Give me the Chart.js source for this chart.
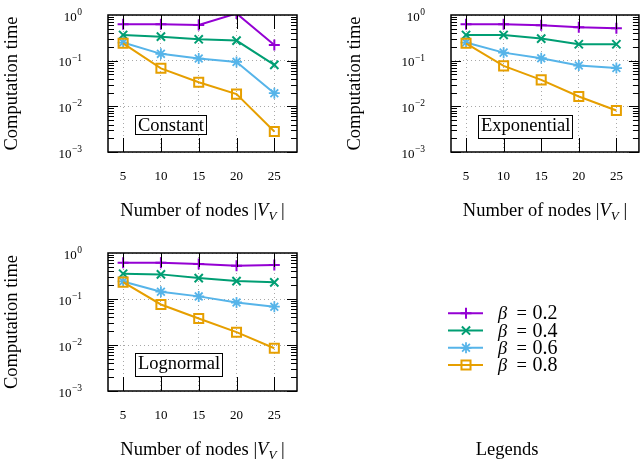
<!DOCTYPE html>
<html><head><meta charset="utf-8">
<script src="https://cdn.jsdelivr.net/npm/chart.js@4.4.1/dist/chart.umd.min.js"></script>
<style>
html,body{margin:0;padding:0;background:#fff;width:640px;height:463px;overflow:hidden;}
canvas{position:absolute;display:block;}
</style></head><body>
<canvas id="c1" width="320" height="230" style="left:0;top:0;width:320px;height:230px"></canvas>
<canvas id="c2" width="320" height="230" style="left:320px;top:0;width:320px;height:230px"></canvas>
<canvas id="c3" width="320" height="233" style="left:0;top:230px;width:320px;height:233px"></canvas>
<canvas id="c4" width="320" height="233" style="left:320px;top:230px;width:320px;height:233px"></canvas>
<script>
// ---------- data ----------
const nodes = [5, 10, 15, 20, 25];
const xTickValues = [5, 10, 15, 20, 25];
const yTickValues = [0.001, 0.01, 0.1, 1];
const yTickExponents = ['\u22123', '\u22122', '\u22121', '0'];
const betaValues = ['0.2', '0.4', '0.6', '0.8'];
const panelNames = ['Constant', 'Exponential', 'Lognormal'];

const constantB02 = [0.625, 0.625, 0.605, 1.08, 0.221];
const constantB04 = [0.366, 0.336, 0.294, 0.275, 0.081];
const constantB06 = [0.249, 0.141, 0.111, 0.094, 0.0194];
const constantB08 = [0.240, 0.068, 0.0338, 0.0185, 0.00282];

const exponentialB02 = [0.625, 0.625, 0.594, 0.538, 0.511];
const exponentialB04 = [0.366, 0.366, 0.304, 0.229, 0.229];
const exponentialB06 = [0.249, 0.150, 0.113, 0.078, 0.069];
const exponentialB08 = [0.240, 0.077, 0.038, 0.0164, 0.0081];

const lognormalB02 = [0.616, 0.616, 0.576, 0.530, 0.548];
const lognormalB04 = [0.355, 0.343, 0.285, 0.245, 0.230];
const lognormalB06 = [0.241, 0.144, 0.114, 0.084, 0.068];
const lognormalB08 = [0.233, 0.076, 0.0377, 0.019, 0.0085];

// ---------- styles ----------
const FONT = '"Liberation Serif", "Times New Roman", Times, serif';
const SERIES_STYLE = [
  {color: '#9400D3', pointStyle: 'cross', radius: 5.5, pw: 2},
  {color: '#009E73', pointStyle: 'crossRot', radius: 5.8, pw: 2},
  {color: '#56B4E9', pointStyle: 'star', radius: 5.5, pw: 1.8},
  {color: '#E69F00', pointStyle: 'rect', radius: 6.4, pw: 2}
];

function makeDatasets(seriesList) {
  return seriesList.map((arr, i) => ({
    label: '\u03B2 = ' + betaValues[i],
    data: nodes.map((n, k) => ({x: n, y: arr[k]})),
    borderColor: SERIES_STYLE[i].color,
    backgroundColor: 'rgba(0,0,0,0)',
    borderWidth: 2,
    pointStyle: SERIES_STYLE[i].pointStyle,
    pointRadius: SERIES_STYLE[i].radius,
    pointBorderWidth: SERIES_STYLE[i].pw,
    pointBorderColor: SERIES_STYLE[i].color,
    pointBackgroundColor: 'rgba(0,0,0,0)',
    tension: 0,
    order: 3 - i
  }));
}

const panelDecor = {
  id: 'panelDecor',
  afterDatasetsDraw(chart, args, opts) {
    const ctx = chart.ctx;
    const a = chart.chartArea;
    const xs = chart.scales.x, ys = chart.scales.y;
    ctx.save();
    // inward tick marks
    ctx.strokeStyle = '#000';
    ctx.lineWidth = 1;
    ctx.beginPath();
    xTickValues.forEach(v => {
      const px = Math.round(xs.getPixelForValue(v)) + 0.5;
      ctx.moveTo(px, a.bottom); ctx.lineTo(px, a.bottom - 14);
      ctx.moveTo(px, a.top); ctx.lineTo(px, a.top + 14);
    });
    for (let e = -3; e < 0; e++) {
      for (let m = 1; m <= 9; m++) {
        const v = m * Math.pow(10, e);
        const py = Math.round(ys.getPixelForValue(v)) + 0.5;
        const len = m === 1 ? 10 : 6;
        ctx.moveTo(a.left, py); ctx.lineTo(a.left + len, py);
        ctx.moveTo(a.right, py); ctx.lineTo(a.right - len, py);
      }
    }
    ctx.stroke();
    // frame
    ctx.lineWidth = 1.5;
    ctx.strokeRect(a.left, a.top, a.right - a.left, a.bottom - a.top);

    // y tick labels 10^k
    ctx.fillStyle = '#000';
    ctx.textBaseline = 'alphabetic';
    ctx.textAlign = 'left';
    const rightX = a.left - 26;
    yTickValues.forEach((v, i) => {
      const py = ys.getPixelForValue(v);
      ctx.font = '9.5px ' + FONT;
      const ew = ctx.measureText(yTickExponents[i]).width;
      ctx.fillText(yTickExponents[i], rightX - ew, py);
      ctx.font = '13px ' + FONT;
      const bw = ctx.measureText('10').width;
      ctx.fillText('10', rightX - ew - bw - 0.5, py + 5.7);
    });

    // y title
    ctx.save();
    ctx.translate(a.left - 91, (a.top + a.bottom) / 2);
    ctx.rotate(-Math.PI / 2);
    ctx.textAlign = 'center';
    ctx.font = '18.5px ' + FONT;
    ctx.fillText('Computation time', 0, 0);
    ctx.restore();

    // x title with subscript
    const parts = [
      {t: 'Number of nodes |', f: '18.5px ' + FONT, dy: 0},
      {t: 'V', f: 'italic 18.5px ' + FONT, dy: 0},
      {t: 'V', f: 'italic 13px ' + FONT, dy: 4},
      {t: ' |', f: '18.5px ' + FONT, dy: 0}
    ];
    let total = 0;
    parts.forEach(p => { ctx.font = p.f; p.w = ctx.measureText(p.t).width; total += p.w; });
    let cx = (a.left + a.right) / 2 - total / 2;
    const by = a.bottom + 64;
    ctx.textAlign = 'left';
    parts.forEach(p => { ctx.font = p.f; ctx.fillText(p.t, cx, by + p.dy); cx += p.w; });

    // panel name box
    ctx.font = '18.5px ' + FONT;
    const name = opts.name;
    const m = ctx.measureText(name);
    const tx = a.left + 30, ty = a.top + 116;
    const asc = m.actualBoundingBoxAscent, desc = m.actualBoundingBoxDescent;
    ctx.fillStyle = '#fff';
    ctx.fillRect(tx - 3, ty - asc - 3, m.width + 5, asc + desc + 5.5);
    ctx.strokeStyle = '#000';
    ctx.lineWidth = 1;
    ctx.strokeRect(Math.round(tx - 3) + 0.5, Math.round(ty - asc - 3) + 0.5, Math.round(m.width + 5), Math.round(asc + desc + 5.5));
    ctx.fillStyle = '#000';
    ctx.fillText(name, tx, ty);
    ctx.restore();
  }
};

function makePanel(canvasId, name, seriesList, pad, xHeight, yWidth) {
  return new Chart(document.getElementById(canvasId), {
    type: 'line',
    data: {datasets: makeDatasets(seriesList)},
    options: {
      responsive: false,
      animation: false,
      devicePixelRatio: 1,
      events: [],
      layout: {padding: pad, autoPadding: false},
      scales: {
        x: {
          type: 'linear', min: 3, max: 28,
          afterBuildTicks: s => { s.ticks = xTickValues.map(v => ({value: v})); },
          afterFit: s => { s.height = xHeight; },
          grid: {display: true, color: '#a8a8a8', lineWidth: 1, drawTicks: false},
          border: {display: false, dash: [1, 3]},
          ticks: {color: '#000', font: {family: FONT, size: 13}, padding: 17, maxRotation: 0, autoSkip: false,
                  callback: v => String(v)}
        },
        y: {
          type: 'logarithmic', min: 0.001, max: 1,
          afterBuildTicks: s => { s.ticks = yTickValues.map(v => ({value: v})); },
          afterFit: s => { s.width = yWidth; },
          grid: {display: true, color: '#a8a8a8', lineWidth: 1, drawTicks: false},
          border: {display: false, dash: [1, 3]},
          ticks: {display: false}
        }
      },
      plugins: {legend: {display: false}, tooltip: {enabled: false}, panelDecor: {name: name}}
    },
    plugins: [panelDecor]
  });
}

makePanel('c1', panelNames[0], [constantB02, constantB04, constantB06, constantB08], {left: 0, top: 15, right: 23, bottom: 0}, 78, 108);
makePanel('c2', panelNames[1], [exponentialB02, exponentialB04, exponentialB06, exponentialB08], {left: 0, top: 15, right: 1, bottom: 0}, 78, 131);
makePanel('c3', panelNames[2], [lognormalB02, lognormalB04, lognormalB06, lognormalB08], {left: 0, top: 23, right: 23, bottom: 0}, 72, 108);

// ---------- legend panel ----------
function fallbackPoint(ctx, style, x, y, r) {
  ctx.beginPath();
  const d = r * Math.SQRT1_2;
  if (style === 'cross' || style === 'star') { ctx.moveTo(x - r, y); ctx.lineTo(x + r, y); ctx.moveTo(x, y - r); ctx.lineTo(x, y + r); }
  if (style === 'crossRot' || style === 'star') { ctx.moveTo(x - d, y - d); ctx.lineTo(x + d, y + d); ctx.moveTo(x - d, y + d); ctx.lineTo(x + d, y - d); }
  if (style === 'rect') { ctx.rect(x - d, y - d, 2 * d, 2 * d); }
  ctx.stroke();
}
const legendDraw = {
  id: 'legendDraw',
  afterDraw(chart) {
    const ctx = chart.ctx;
    ctx.save();
    chart.data.datasets.forEach((ds, i) => {
      const y = 83.3 + i * 17.25;
      ctx.strokeStyle = ds.borderColor;
      ctx.lineWidth = 2;
      ctx.beginPath(); ctx.moveTo(128, y); ctx.lineTo(163, y); ctx.stroke();
      ctx.lineWidth = ds.pointBorderWidth;
      ctx.fillStyle = 'rgba(0,0,0,0)';
      if (Chart.helpers && Chart.helpers.drawPoint) {
        Chart.helpers.drawPoint(ctx, {pointStyle: ds.pointStyle, rotation: 0, radius: ds.pointRadius, borderWidth: ds.pointBorderWidth}, 146, y);
      } else {
        fallbackPoint(ctx, ds.pointStyle, 146, y, ds.pointRadius);
      }
      ctx.fillStyle = '#000';
      ctx.textAlign = 'left';
      ctx.textBaseline = 'alphabetic';
      ctx.font = 'italic 18.5px ' + FONT;
      ctx.fillText('\u03B2', 178, y + 6);
      ctx.font = '18.5px ' + FONT;
      ctx.fillText('=', 196.5, y + 6);
      ctx.font = '20px ' + FONT;
      ctx.fillText(betaValues[i], 212.5, y + 6);
    });
    ctx.font = '18.5px ' + FONT;
    ctx.textAlign = 'center';
    ctx.fillStyle = '#000';
    ctx.fillText('Legends', 187, 225);
    ctx.restore();
  }
};
new Chart(document.getElementById('c4'), {
  type: 'line',
  data: {datasets: makeDatasets([[], [], [], []]).map(d => Object.assign(d, {data: []}))},
  options: {
    responsive: false, animation: false, devicePixelRatio: 1, events: [],
    layout: {autoPadding: false},
    scales: {x: {display: false}, y: {display: false}},
    plugins: {legend: {display: false}, tooltip: {enabled: false}}
  },
  plugins: [legendDraw]
});
</script>
</body></html>
